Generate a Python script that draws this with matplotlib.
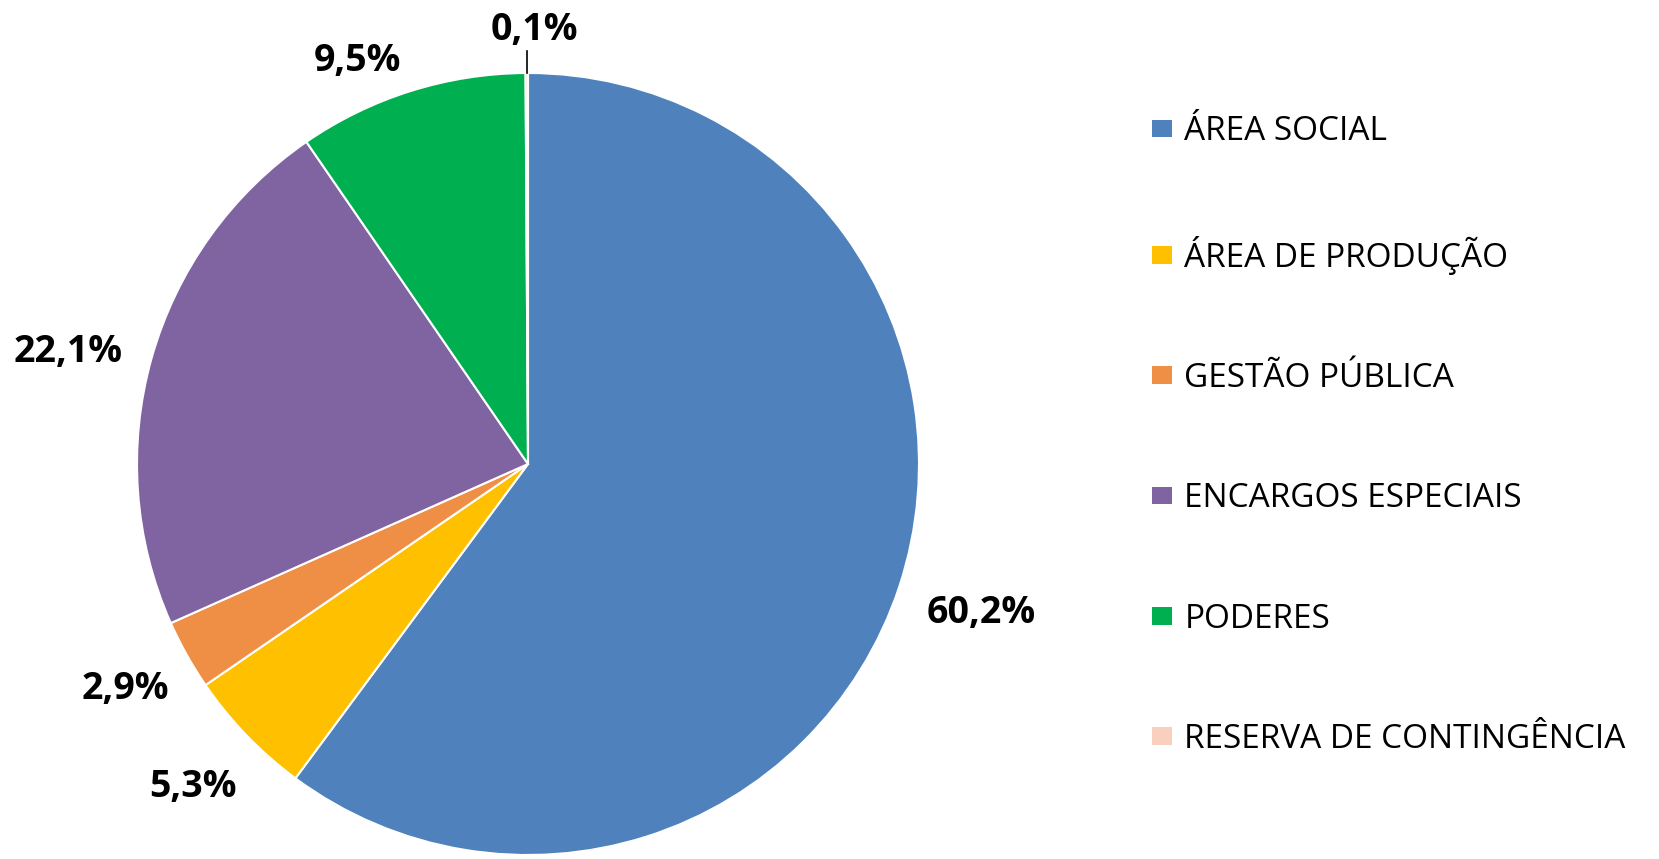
import matplotlib
matplotlib.use("Agg")
import matplotlib.pyplot as plt
from matplotlib.patches import Patch
import numpy as np

categories = ["ÁREA SOCIAL", "ÁREA DE PRODUÇÃO", "GESTÃO PÚBLICA",
              "ENCARGOS ESPECIAIS", "PODERES", "RESERVA DE CONTINGÊNCIA"]
values = [60.2, 5.3, 2.9, 22.1, 9.5, 0.1]
labels = ["60,2%", "5,3%", "2,9%", "22,1%", "9,5%", "0,1%"]
colors = ["#4F81BD", "#FFC000", "#EE8F45", "#8064A2", "#00B050", "#F9CFBD"]
label_r = [1.22, 1.19, 1.18, 1.21, 1.12, 1.11]
label_dang = [0.0, 0.0, 0.0, 2.0, 5.5, 0.0]

plt.rcParams['font.family'] = ['Open Sans', 'DejaVu Sans']

W, H = 1659, 859
fig = plt.figure(figsize=(W / 100, H / 100), dpi=100)
cx, cy, R = 528, 464, 391
ax = fig.add_axes([(cx - R) / W, (H - cy - R) / H, 2 * R / W, 2 * R / H])

wedges, _ = ax.pie(values, colors=colors, startangle=90, counterclock=False,
                   radius=1.0, wedgeprops=dict(edgecolor='white', linewidth=1.5))
ax.set_xlim(-1, 1)
ax.set_ylim(-1, 1)
ax.set_aspect('equal')
ax.axis('off')

for w, lab, r, da in zip(wedges, labels, label_r, label_dang):
    mid = np.deg2rad((w.theta1 + w.theta2) / 2)
    ang = mid + np.deg2rad(da)
    x, y = r * np.cos(ang), r * np.sin(ang)
    if lab == "0,1%":
        ax.plot([np.cos(mid), np.cos(mid)], [1.0, 1.055], color='black', lw=1.2, clip_on=False)
        ax.text(x + 0.02, y, lab, ha='center', va='center', fontsize=27, fontweight='bold',
                clip_on=False)
    else:
        ax.text(x, y, lab, ha='center', va='center', fontsize=27, fontweight='bold',
                clip_on=False)

handles = [Patch(facecolor=c, edgecolor='none') for c in colors]
fig.legend(handles, categories, loc='upper left', bbox_to_anchor=(1139 / W, 1 - 102 / H),
           frameon=False, fontsize=24, handlelength=0.6, handleheight=0.45,
           handletextpad=0.36, labelspacing=2.62, borderaxespad=0)

fig.savefig("out.png", dpi=100, facecolor='white')
